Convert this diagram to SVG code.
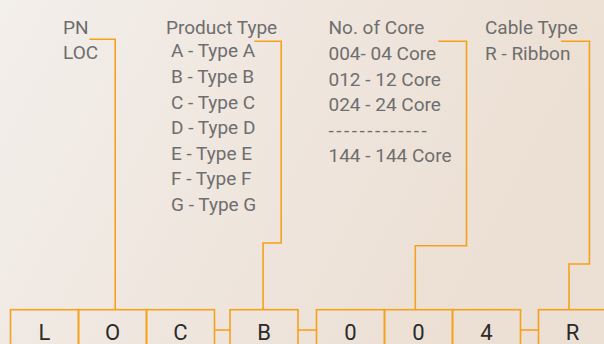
<svg xmlns="http://www.w3.org/2000/svg" width="604" height="344" viewBox="0 0 604 344">
  <defs>
    <linearGradient id="bg" x1="0" y1="0" x2="1" y2="0.3">
      <stop offset="0" stop-color="#f3efeb"/>
      <stop offset="0.5" stop-color="#efe6de"/>
      <stop offset="1" stop-color="#ecdfd3"/>
    </linearGradient>
  </defs>
  <style>
    .lbl { font-family: Roboto, "Noto Sans", sans-serif; font-size: 19px; fill: #6e6e6e; }
    .box { fill: none; stroke: #f6a11c; stroke-width: 1.6; }
    .con { fill: none; stroke: #f6a11c; stroke-width: 1.6; }
    .chr { font-family: Roboto, "Noto Sans", sans-serif; font-size: 22px; fill: #2a2a2a; text-anchor: middle; }
  </style>
  <rect x="0" y="0" width="604" height="344" fill="url(#bg)"/>

  <g id="pn-label">
    <text class="lbl" x="63" y="33.5">PN</text>
    <text class="lbl" x="63" y="58.5">LOC</text>
  </g>
  <g id="product-type-label">
    <text class="lbl" x="166" y="33.5">Product Type</text>
    <text class="lbl" x="171" y="57.3">A - Type A</text>
    <text class="lbl" x="171" y="82.9">B - Type B</text>
    <text class="lbl" x="171" y="108.5">C - Type C</text>
    <text class="lbl" x="171" y="134.1">D - Type D</text>
    <text class="lbl" x="171" y="159.7">E - Type E</text>
    <text class="lbl" x="171" y="185.3">F - Type F</text>
    <text class="lbl" x="171" y="210.9">G - Type G</text>
  </g>
  <g id="no-of-core-label">
    <text class="lbl" x="328.5" y="34">No. of Core</text>
    <text class="lbl" x="328.5" y="60">004- 04 Core</text>
    <text class="lbl" x="328.5" y="85.5">012 - 12 Core</text>
    <text class="lbl" x="328.5" y="111">024 - 24 Core</text>
    <text class="lbl" x="328.5" y="136.5" letter-spacing="2.5">-------------</text>
    <text class="lbl" x="328.5" y="162.3">144 - 144 Core</text>
  </g>
  <g id="cable-type-label">
    <text class="lbl" x="485" y="34">Cable Type</text>
    <text class="lbl" x="485" y="59.5">R - Ribbon</text>
  </g>

  <g id="connectors">
    <polyline class="con" points="89.4,39.3 115.2,39.3 115.2,309.7"/>
    <polyline class="con" points="254.2,41.3 281.2,41.3 281.2,243 263.1,243 263.1,309.7"/>
    <polyline class="con" points="438.4,41.3 466.5,41.3 466.5,245.7 415.3,245.7 415.3,309.7"/>
    <polyline class="con" points="561,41.3 589.4,41.3 589.4,264 569,264 569,309.7"/>
    <line class="con" x1="214.5" y1="330" x2="230" y2="330"/>
    <line class="con" x1="298" y1="330" x2="316.5" y2="330"/>
    <line class="con" x1="520.5" y1="330" x2="538.5" y2="330"/>
  </g>

  <g id="box-L"><rect class="box" x="10.5" y="309.7" width="68" height="50"/><text class="chr" x="44.5" y="339.5">L</text></g>
  <g id="box-O"><rect class="box" x="78.5" y="309.7" width="68" height="50"/><text class="chr" x="112.5" y="339.5">O</text></g>
  <g id="box-C"><rect class="box" x="146.5" y="309.7" width="68" height="50"/><text class="chr" x="180.5" y="339.5">C</text></g>
  <g id="box-B"><rect class="box" x="230" y="309.7" width="68" height="50"/><text class="chr" x="264" y="339.5">B</text></g>
  <g id="box-0a"><rect class="box" x="316.5" y="309.7" width="68" height="50"/><text class="chr" x="350.5" y="339.5">0</text></g>
  <g id="box-0b"><rect class="box" x="384.5" y="309.7" width="68" height="50"/><text class="chr" x="418.5" y="339.5">0</text></g>
  <g id="box-4"><rect class="box" x="452.5" y="309.7" width="68" height="50"/><text class="chr" x="486.5" y="339.5">4</text></g>
  <g id="box-R"><rect class="box" x="538.5" y="309.7" width="68" height="50"/><text class="chr" x="572.5" y="339.5">R</text></g>
</svg>
